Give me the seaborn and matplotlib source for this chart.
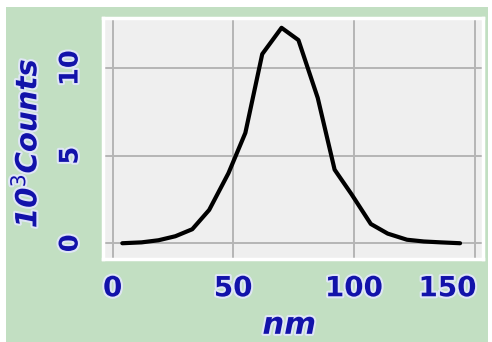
import matplotlib
matplotlib.use("Agg")
import matplotlib.pyplot as plt
import matplotlib.patheffects as pe
from matplotlib.patches import Rectangle
from matplotlib.ticker import MultipleLocator
from matplotlib.transforms import ScaledTranslation
import pandas as pd
import seaborn as sns

# Size distribution (nm vs 10^3 counts)
size_nm = [4, 12, 19, 26, 33, 40, 48, 55, 62, 70, 77, 85, 92, 99, 107, 114, 122, 129, 136, 144]
counts_k = [0.0, 0.05, 0.17, 0.4, 0.8, 1.9, 4.0, 6.3, 10.8, 12.3, 11.6, 8.3, 4.2, 2.8, 1.1, 0.55, 0.2, 0.1, 0.05, 0.0]
x_ticks = [0, 50, 100, 150]
y_ticks = [0, 5, 10]

GREEN = "#c2dfc2"
BLUE = "#1212aa"
glow = [pe.withStroke(linewidth=3, foreground="#dfe6f5")]

sns.set_theme(style="white")
plt.rcParams["font.family"] = ["DejaVu Sans"]

df = pd.DataFrame({"nm": size_nm, "counts": counts_k})

fig = plt.figure(figsize=(4.92, 3.42), dpi=100)
fig.patch.set_facecolor("white")
fig.patches.append(Rectangle((6 / 492, 0), 482 / 492, 335 / 342, transform=fig.transFigure,
                             facecolor=GREEN, edgecolor="none", zorder=-10))
ax = fig.add_axes([103 / 492, 1 - 259 / 342, 380 / 492, 241 / 342])
ax.set_facecolor("#efefef")

sns.lineplot(data=df, x="nm", y="counts", ax=ax, color="black", linewidth=3)

ax.set_xlim(-4, 153.5)
ax.set_ylim(-0.9, 12.86)
ax.set_xticks(x_ticks)
ax.set_yticks(y_ticks)
ax.xaxis.set_minor_locator(MultipleLocator(5))
ax.yaxis.set_minor_locator(MultipleLocator(1))
ax.grid(True, which="major", color="#b5b5b5", linewidth=1.4)
for s in ax.spines.values():
    s.set_color("white")
    s.set_linewidth(2.5)

ax.tick_params(which="both", direction="out", color="white", width=1.5)
ax.tick_params(which="major", length=4)
ax.tick_params(which="minor", length=3)
ax.tick_params(axis="x", which="major", pad=7)
ax.tick_params(axis="y", which="major", pad=10)

for lab in ax.get_xticklabels():
    lab.set_fontsize(20)
    lab.set_fontweight("bold")
    lab.set_color(BLUE)
    lab.set_path_effects(glow)
# the last label sits a bit left of its gridline in the original
last = ax.get_xticklabels()[-1]
last.set_transform(last.get_transform() + ScaledTranslation(-27 / 100, 0, fig.dpi_scale_trans))

for lab in ax.get_yticklabels():
    lab.set_fontsize(18.5)
    lab.set_fontweight("bold")
    lab.set_color(BLUE)
    lab.set_rotation(90)
    lab.set_va("center")
    lab.set_path_effects(glow)

ax.set_xlabel("nm", fontsize=22, fontweight="bold", fontstyle="italic", color=BLUE,
              path_effects=glow)
ax.set_ylabel("10$^{3}$Counts", fontsize=21, fontweight="bold", fontstyle="italic", color=BLUE,
              path_effects=glow)
ax.xaxis.set_label_coords(0.49, -0.215)
ax.yaxis.set_label_coords(-0.159, 0.48)

fig.savefig("out.png", dpi=100, facecolor=fig.get_facecolor())
